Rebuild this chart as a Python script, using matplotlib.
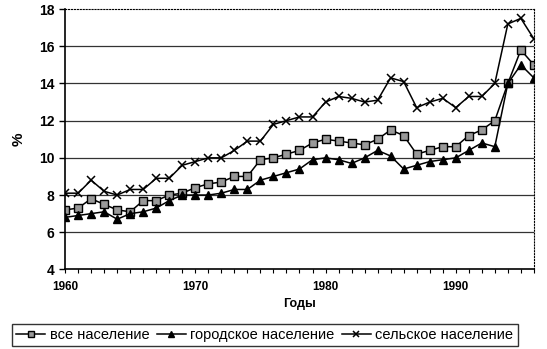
import matplotlib
matplotlib.use('Agg')
import matplotlib.pyplot as plt

years = list(range(1960, 1997))
vse = [7.2, 7.3, 7.8, 7.5, 7.2, 7.1, 7.7, 7.7, 8.0, 8.1,
       8.4, 8.6, 8.7, 9.0, 9.0, 9.9, 10.0, 10.2, 10.4, 10.8,
       11.0, 10.9, 10.8, 10.7, 11.0, 11.5, 11.2, 10.2, 10.4, 10.6,
       10.6, 11.2, 11.5, 12.0, 14.0, 15.8, 15.0]
gorod = [6.8, 6.9, 7.0, 7.1, 6.7, 7.0, 7.1, 7.3, 7.7, 8.0,
         8.0, 8.0, 8.1, 8.3, 8.3, 8.8, 9.0, 9.2, 9.4, 9.9,
         10.0, 9.9, 9.7, 10.0, 10.4, 10.1, 9.4, 9.6, 9.8, 9.9,
         10.0, 10.4, 10.8, 10.6, 14.0, 15.0, 14.3]
selo = [8.1, 8.1, 8.8, 8.2, 8.0, 8.3, 8.3, 8.9, 8.9, 9.6,
        9.8, 10.0, 10.0, 10.4, 10.9, 10.9, 11.8, 12.0, 12.2, 12.2,
        13.0, 13.3, 13.2, 13.0, 13.1, 14.3, 14.1, 12.7, 13.0, 13.2,
        12.7, 13.3, 13.3, 14.0, 17.2, 17.5, 16.4]
labels = ['все население', 'городское население', 'сельское население']
xticks = [1960, 1970, 1980, 1990]

plt.rcParams['font.family'] = ['Liberation Sans', 'DejaVu Sans']

fig = plt.figure(figsize=(5.47, 3.49), dpi=100)
ax = fig.add_axes([0.119, 0.228, 0.857, 0.746])

ax.plot(years, vse, '-', color='black', lw=1.1, marker='s', ms=5.5,
        mfc='#999999', mec='black', mew=1.0, label=labels[0])
ax.plot(years, gorod, '-', color='black', lw=1.1, marker='^', ms=6,
        mfc='black', mec='black', label=labels[1])
ax.plot(years, selo, '-', color='black', lw=1.1, marker='x', ms=6,
        mew=1.1, label=labels[2])

ax.set_xlim(1960, 1996)
ax.set_ylim(4, 18)
ax.set_yticks(range(4, 19, 2))
ax.set_xticks(xticks)
ax.set_xticks(years, minor=True)
ax.tick_params(axis='y', labelsize=10, length=4, width=1)
ax.tick_params(axis='x', which='both', length=3, width=0.8, labelsize=8.5, pad=5)
for lab in ax.get_yticklabels() + ax.get_xticklabels():
    lab.set_fontweight('bold')

# horizontal gridlines
for v in range(6, 18, 2):
    ax.axhline(v, color='#333333', lw=0.9, zorder=0)

ax.spines['top'].set_linestyle(':')
ax.spines['right'].set_linestyle(':')
ax.spines['left'].set_linewidth(1.2)
ax.spines['bottom'].set_linewidth(1.2)

ax.set_xlabel('Годы', fontweight='bold', fontsize=9, labelpad=4)
ax.set_ylabel('%', fontweight='bold', fontsize=11, labelpad=10)

leg = ax.legend(loc='upper center', bbox_to_anchor=(0.426, -0.18), ncol=3,
                fontsize=10.5, frameon=True, fancybox=False, edgecolor='black',
                handlelength=2.0, handletextpad=0.3, columnspacing=0.5,
                borderpad=0.3, markerscale=0.8)
leg.get_frame().set_linewidth(1.0)

fig.savefig('out.png', dpi=100)
